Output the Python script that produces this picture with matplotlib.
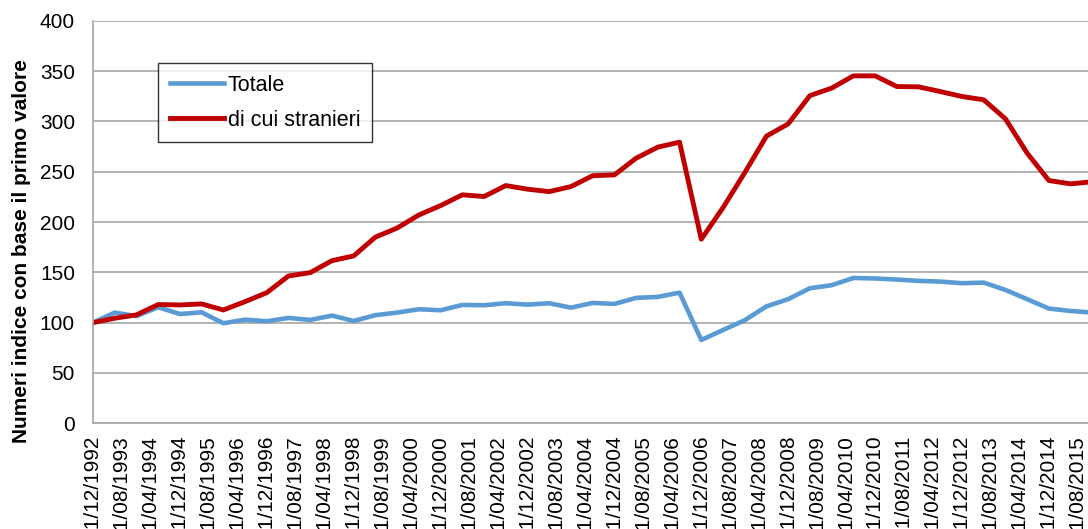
import matplotlib
matplotlib.use("Agg")
import matplotlib.pyplot as plt
import numpy as np

plt.rcParams['font.family'] = ['Liberation Sans', 'DejaVu Sans']

# semi-annual observations from 01/12/1992 to 01/12/2015 (months since 12/1992)
months = np.arange(0, 277, 6)

totale = [100, 110, 106.5, 115.3, 108.6, 110.3, 99.4, 103, 101.4, 104.7,
          102.7, 107, 101.7, 107.4, 110, 113.3, 112.3, 117.6, 117.3, 119.3,
          117.9, 119.3, 114.9, 119.6, 118.6, 124.6, 125.6, 129.8, 82.8, 92.7,
          102.4, 116.2, 123.3, 134.2, 137.2, 144.4, 143.9, 142.8, 141.5, 140.8,
          139.2, 139.8, 132.5, 123.3, 114, 111.6, 110]

stranieri = [100, 104.4, 107.7, 118, 117.6, 118.6, 112.6, 120.9, 129.8, 146.4,
             149.7, 161.6, 166.3, 185, 194, 207, 216.3, 227, 225.3, 236.2,
             232.6, 230.2, 235.2, 246, 246.8, 263.4, 274.4, 279.3, 182.9, 214.3,
             249, 285.3, 297.5, 325.6, 333, 345.2, 345.2, 334.6, 334.3, 329.6,
             324.7, 321.4, 302.5, 268.4, 241.2, 237.9, 240]

# tick labels every 8 months
tick_months = np.arange(0, 273, 8)
tick_labels = []
for m in tick_months:
    mm = (12 + m - 1) % 12 + 1
    yy = 1992 + (12 + m - 1) // 12
    tick_labels.append(f"01/{mm:02d}/{yy}")

fig = plt.figure(figsize=(10.88, 5.29), dpi=100)
ax = fig.add_axes([93 / 1088, (529 - 423.3) / 529, (1088 - 93) / 1088, (423.3 - 20.7) / 529])

ax.plot(months, totale, color='#5B9BD5', lw=3.3, label='Totale', solid_joinstyle='round')
ax.plot(months, stranieri, color='#C00000', lw=3.5, label='di cui stranieri', solid_joinstyle='round')

ax.set_xlim(0, 274.8)
ax.set_ylim(0, 400)
ax.set_yticks(range(0, 401, 50))
ax.set_xticks(tick_months)
ax.set_xticklabels(tick_labels, rotation=90, va='top', ha='center')
ax.tick_params(axis='both', length=0, labelsize=15)
ax.tick_params(axis='x', pad=9)
ax.tick_params(axis='y', pad=13)
ax.grid(axis='y', color='#a6a6a6', lw=1.2)
ax.set_axisbelow(True)
for s in ['top', 'right']:
    ax.spines[s].set_visible(False)
for s in ['left', 'bottom']:
    ax.spines[s].set_color('#a6a6a6')
    ax.spines[s].set_linewidth(1.2)

ax.set_ylabel('Numeri indice con base il primo valore', fontsize=15,
              fontweight='bold')
ax.yaxis.set_label_coords(-0.062, 0.428)

leg = ax.legend(loc='upper left', bbox_to_anchor=(65 / 995, 1 - 42 / 402.6),
                fontsize=15.5, frameon=True, fancybox=False, handlelength=2.5,
                handletextpad=0.2, borderpad=0.55, labelspacing=0.65,
                borderaxespad=0)
leg.get_frame().set_edgecolor('black')
leg.get_frame().set_linewidth(1.0)

fig.savefig('out.png', dpi=100)
